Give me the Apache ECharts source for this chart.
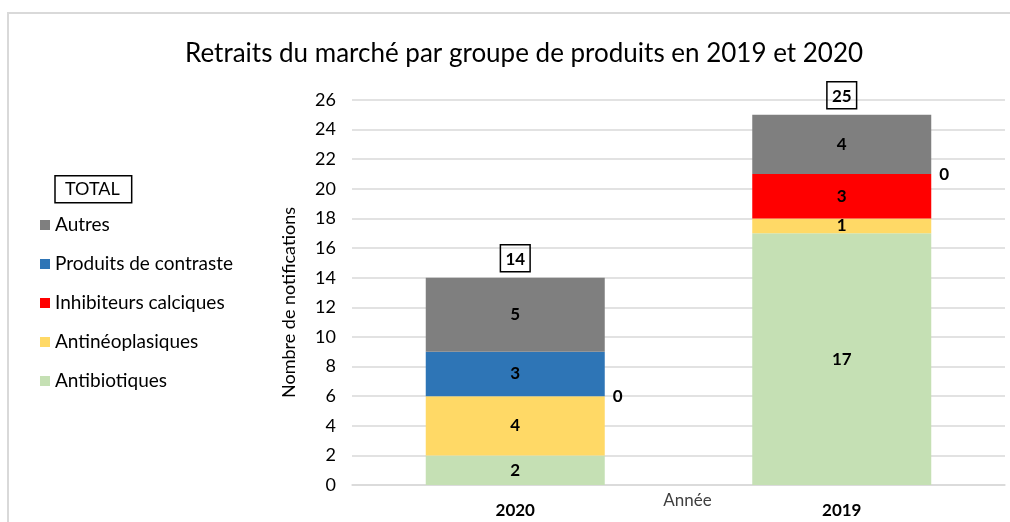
<!DOCTYPE html>
<html>
<head>
<meta charset="utf-8">
<script src="https://cdn.jsdelivr.net/npm/echarts@6/dist/echarts.min.js"></script>
<style>
  html, body { margin: 0; padding: 0; background: #fff; }
  #chart { width: 1010px; height: 522px; }
</style>
</head>
<body>
<div id="chart"></div>
<script>
// categories and values
var years = ['2020', '2019'];
var antibiotiques = [2, 17];
var antineoplasiques = [4, 1];
var inhibiteurs = [0, 3];
var contraste = [3, 0];
var autres = [5, 4];
var totals = [14, 25];

var font = 'Lato, "Liberation Sans", sans-serif';

// zero values get their label moved to the right of the bar
function withLabels(values) {
  return values.map(function (v) {
    if (v === 0) {
      return { value: v, label: { position: 'right', distance: 8 } };
    }
    return v;
  });
}

function stackSeries(name, values, color) {
  return {
    name: name,
    type: 'bar',
    stack: 'total',
    barWidth: 179,
    itemStyle: { color: color },
    label: {
      show: true,
      position: 'inside',
      color: '#000',
      fontWeight: 'bold',
      fontSize: 17,
      fontFamily: font
    },
    data: withLabels(values)
  };
}

var series = [
  stackSeries('Antibiotiques', antibiotiques, '#c5e0b4'),
  stackSeries('Antinéoplasiques', antineoplasiques, '#ffd966'),
  stackSeries('Inhibiteurs calciques', inhibiteurs, '#ff0000'),
  stackSeries('Produits de contraste', contraste, '#2e75b6'),
  stackSeries('Autres', autres, '#7f7f7f'),
  {
    name: 'TOTAL',
    type: 'bar',
    stack: 'total',
    barWidth: 179,
    itemStyle: { color: 'transparent' },
    label: {
      show: true,
      position: 'top',
      distance: 6,
      color: '#000',
      fontWeight: 'bold',
      fontSize: 17,
      fontFamily: font,
      borderColor: '#000',
      borderWidth: 1.5,
      padding: [6, 5, 4, 5],
      formatter: function (p) { return totals[p.dataIndex]; }
    },
    data: years.map(function () { return 0; })
  }
];

var option = {
  animation: false,
  backgroundColor: '#fff',
  title: {
    text: 'Retraits du marché par groupe de produits en 2019 et 2020',
    left: 180,
    top: 36,
    textStyle: { fontFamily: font, fontSize: 26, fontWeight: 'normal', color: '#000' }
  },
  graphic: [{
    type: 'rect',
    shape: { x: 8, y: 13, width: 1200, height: 700 },
    style: { fill: 'none', stroke: '#d9d9d9', lineWidth: 2 },
    silent: true
  }],
  legend: [{
    orient: 'vertical',
    left: 45,
    top: 170,
    data: [{ name: 'TOTAL', icon: 'none' }],
    itemWidth: 0,
    itemGap: 0,
    textStyle: {
      fontFamily: font, fontSize: 18, color: '#000',
      borderColor: '#000', borderWidth: 1.5, padding: [5, 12, 4, 10]
    },
    selectedMode: false
  }, {
    orient: 'vertical',
    left: 35,
    top: 209,
    data: ['Autres', 'Produits de contraste', 'Inhibiteurs calciques', 'Antinéoplasiques', 'Antibiotiques'],
    icon: 'rect',
    itemWidth: 10,
    itemHeight: 10,
    itemGap: 17,
    textStyle: { fontFamily: font, fontSize: 19, color: '#000', lineHeight: 22 },
    selectedMode: false
  }],
  grid: { left: 352, right: 5, top: 100, bottom: 37, outerBoundsMode: 'none' },
  xAxis: {
    type: 'category',
    data: years,
    name: 'Année',
    nameLocation: 'middle',
    nameGap: 7,
    nameMoveOverlap: false,
    nameTextStyle: { fontFamily: font, fontSize: 17, color: '#404040', padding: [0, 0, 0, 18] },
    axisLine: { lineStyle: { color: '#d9d9d9', width: 1.5 } },
    axisTick: { show: false },
    axisLabel: { fontFamily: font, fontSize: 17, fontWeight: 'bold', color: '#000', margin: 17 }
  },
  yAxis: {
    type: 'value',
    min: 0,
    max: 26,
    interval: 2,
    name: 'Nombre de notifications',
    nameLocation: 'middle',
    nameGap: 54,
    nameMoveOverlap: false,
    nameTextStyle: { fontFamily: font, fontSize: 18, color: '#000', padding: [0, 20, 0, 0] },
    axisLine: { show: false },
    axisTick: { show: false },
    axisLabel: { fontFamily: font, fontSize: 18, color: '#000', margin: 16 },
    splitLine: { lineStyle: { color: '#d9d9d9', width: 1.5 } }
  },
  series: series
};

var chart = echarts.init(document.getElementById('chart'));
chart.setOption(option);
</script>
</body>
</html>
